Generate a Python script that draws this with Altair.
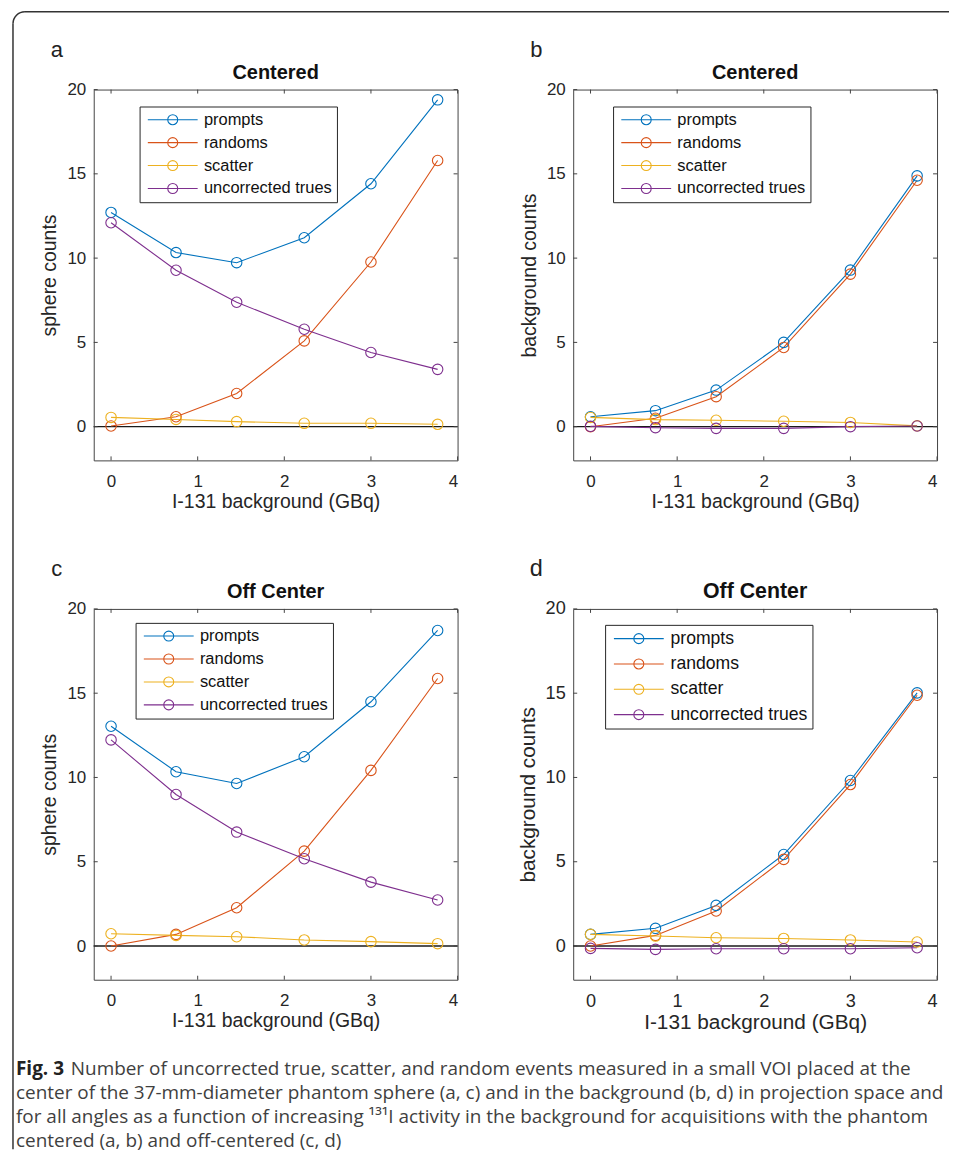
import altair as alt
import pandas as pd

# ---------------- data ----------------
activity = [0, 0.75, 1.45, 2.23, 3.0, 3.77]
series_names = ["prompts", "randoms", "scatter", "uncorrected trues"]
series_colors = ["#0072BD", "#D95319", "#EDB120", "#7E2F8E"]

a_prompts = [12.71, 10.33, 9.73, 11.21, 14.41, 19.39]
a_randoms = [0.04, 0.59, 1.97, 5.09, 9.77, 15.79]
a_scatter = [0.55, 0.43, 0.30, 0.20, 0.20, 0.14]
a_trues = [12.10, 9.28, 7.38, 5.78, 4.40, 3.40]

b_prompts = [0.59, 0.95, 2.17, 5.00, 9.29, 14.88]
b_randoms = [0.00, 0.50, 1.78, 4.70, 9.05, 14.62]
b_scatter = [0.55, 0.42, 0.38, 0.32, 0.25, 0.05]
b_trues = [0.02, -0.06, -0.10, -0.10, 0.00, 0.04]

c_prompts = [13.04, 10.34, 9.64, 11.23, 14.49, 18.72]
c_randoms = [0.00, 0.69, 2.27, 5.63, 10.42, 15.87]
c_scatter = [0.73, 0.63, 0.55, 0.36, 0.26, 0.14]
c_trues = [12.23, 8.99, 6.76, 5.18, 3.79, 2.73]

d_prompts = [0.69, 1.05, 2.41, 5.43, 9.82, 15.02]
d_randoms = [0.00, 0.63, 2.08, 5.14, 9.58, 14.88]
d_scatter = [0.69, 0.59, 0.49, 0.45, 0.36, 0.24]
d_trues = [-0.14, -0.20, -0.16, -0.16, -0.16, -0.10]

x_ticks = [0, 1, 2, 3, 4]
y_ticks = [0, 5, 10, 15, 20]
x_title = "I-131 background (GBq)"

caption_bold = "Fig. 3"
caption_lines = [
    "Number of uncorrected true, scatter, and random events measured in a small VOI placed at the",
    "center of the 37-mm-diameter phantom sphere (a, c) and in the background (b, d) in projection space and",
    "for all angles as a function of increasing \u00b9\u00b3\u00b9I activity in the background for acquisitions with the phantom",
    "centered (a, b) and off-centered (c, d)",
]

# ---------------- styling ----------------
W, H = 365, 372
XDOM = [-0.2, 4]
YDOM = [-2, 20]
FONT = "Liberation Sans"
FRAME = "#444444"
TXT = "#262626"
LEG_PATH = "M-5,0L5,0M-1,0A1,1,0,1,0,1,0A1,1,0,1,0,-1,0"
ONE = pd.DataFrame({"d": [0]})


def panel(vals, ylab, title, letter, lx, ly, k=1.0, border=False, caption=False):
    rows = []
    for name, ys in zip(series_names, vals):
        for xv, yv in zip(activity, ys):
            rows.append({"x": xv, "y": yv, "series": name})
    df = pd.DataFrame(rows)

    xenc = alt.X(
        "x:Q",
        scale=alt.Scale(domain=XDOM, nice=False, zero=False),
        axis=alt.Axis(values=x_ticks, title=x_title, labelFontSize=17 * k,
                      titleFontSize=19.5 * k, labelPadding=13, titlePadding=3,
                      format="d"),
    )
    yenc = alt.Y(
        "y:Q",
        scale=alt.Scale(domain=YDOM, nice=False, zero=False),
        axis=alt.Axis(values=y_ticks, title=ylab, labelFontSize=17 * k,
                      titleFontSize=19.5 * k, labelPadding=8, titlePadding=7,
                      format="d"),
    )
    color = alt.Color(
        "series:N",
        scale=alt.Scale(domain=series_names, range=series_colors),
        legend=alt.Legend(
            title=None, orient="none", legendX=lx, legendY=ly,
            symbolType=LEG_PATH, symbolSize=100, symbolStrokeWidth=1.1,
            symbolOffset=20, labelOffset=23, labelFont=FONT,
            labelFontSize=16.5 * k, labelColor="#111111", rowPadding=6 * k,
            padding=5, strokeColor="#262626", fillColor="white",
            labelLimit=400,
        ),
    )
    base = alt.Chart(df).encode(x=xenc, y=yenc, color=color)
    lines = base.mark_line(strokeWidth=1.1)
    pts = base.mark_point(filled=False, size=110, strokeWidth=1.1, opacity=1)

    zero = alt.Chart(pd.DataFrame({"y": [0]})).mark_rule(
        color="#1a1a1a", strokeWidth=1.3).encode(y=yenc)

    xt = pd.DataFrame({"x": x_ticks})
    yt = pd.DataFrame({"y": y_ticks})
    tk = dict(color=FRAME, strokeWidth=1)
    t_b = alt.Chart(xt).mark_rule(**tk).encode(x=xenc, y=alt.value(H), y2=alt.value(H - 4))
    t_t = alt.Chart(xt).mark_rule(**tk).encode(x=xenc, y=alt.value(0), y2=alt.value(4))
    t_l = alt.Chart(yt).mark_rule(**tk).encode(y=yenc, x=alt.value(0), x2=alt.value(4))
    t_r = alt.Chart(yt).mark_rule(**tk).encode(y=yenc, x=alt.value(W), x2=alt.value(W - 4))

    let = alt.Chart(ONE).mark_text(
        text=letter, font=FONT, fontSize=22 * k, color="#222222",
        align="center", baseline="alphabetic").encode(
        x=alt.value(-37), y=alt.value(-33))

    ttl = alt.Chart(ONE).mark_text(
        text=title, font=FONT, fontSize=20 * k, fontWeight="bold", color="#111111",
        align="center", baseline="alphabetic").encode(
        x=alt.value(W / 2), y=alt.value(-11))

    layers = [zero, t_b, t_t, t_l, t_r, lines, pts, let, ttl]

    if border:
        bc = "#333333"
        arc = alt.Chart(ONE).mark_arc(
            theta=4.712389, theta2=6.283185, radius=12.75, radius2=11.25,
            color=bc).encode(x=alt.value(-69), y=alt.value(-66))
        top = alt.Chart(ONE).mark_rule(color=bc, strokeWidth=1.5).encode(
            x=alt.value(-69), x2=alt.value(858), y=alt.value(-78))
        left = alt.Chart(ONE).mark_rule(color=bc, strokeWidth=1.5).encode(
            x=alt.value(-81), y=alt.value(-66), y2=alt.value(1063))
        layers += [arc, top, left]

    if caption:
        cap_font = "Open Sans"
        cap_col = "#3f3f3f"
        x0 = -78
        y0 = 468
        dy = 24
        layers.append(alt.Chart(ONE).mark_text(
            text=caption_bold, font=cap_font, fontSize=19, fontWeight="bold",
            color="#222222", align="left", baseline="alphabetic").encode(
            x=alt.value(x0), y=alt.value(y0)))
        for i, line in enumerate(caption_lines):
            layers.append(alt.Chart(ONE).mark_text(
                text=line, font=cap_font, fontSize=19, color=cap_col,
                align="left", baseline="alphabetic").encode(
                x=alt.value(x0 + (55 if i == 0 else 0)), y=alt.value(y0 + i * dy)))

    return alt.layer(*layers).properties(width=W, height=H)


pa = panel([a_prompts, a_randoms, a_scatter, a_trues], "sphere counts", "Centered", "a", 46, 17, border=True)
pb = panel([b_prompts, b_randoms, b_scatter, b_trues], "background counts", "Centered", "b", 40, 17)
pc = panel([c_prompts, c_randoms, c_scatter, c_trues], "sphere counts", "Off Center", "c", 42, 14, caption=True)
pd_ = panel([d_prompts, d_randoms, d_scatter, d_trues], "background counts", "Off Center", "d", 32, 16, k=1.07)

chart = alt.concat(
    pa, pb, pc, pd_, columns=2, spacing={"row": 149, "column": 116}, bounds="flush"
).resolve_scale(
    color="independent"
).properties(
    padding={"left": 3, "top": 0, "right": 0, "bottom": 0},
    background="white",
).configure_view(
    stroke=FRAME, strokeWidth=1
).configure_axis(
    domain=False, ticks=False, tickSize=0, grid=False,
    labelFont=FONT, titleFont=FONT, labelColor=TXT, titleColor=TXT,
    titleFontWeight="normal",
).configure_legend(
    strokeWidth=1
)

chart.save("out.html", embed_options={"renderer": "svg", "actions": False})
